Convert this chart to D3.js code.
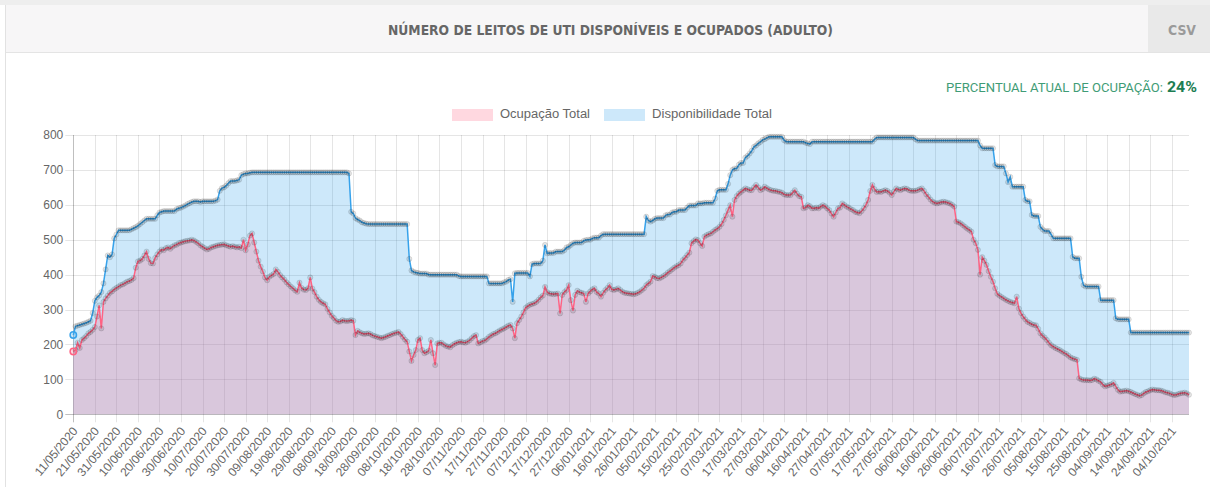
<!DOCTYPE html>
<html><head><meta charset="utf-8">
<script src="https://cdn.jsdelivr.net/npm/d3@7"></script>
<style>
html,body{margin:0;padding:0;background:#fff;overflow:hidden;}
svg{display:block;}
</style></head><body>
<svg id="c" width="1210" height="487"></svg>
<script>
// ---------------- DATA ----------------
const startDate = "2020-05-11";
const missingDays = ["2021-04-26"];
const seriesNames = ["Ocupação Total", "Disponibilidade Total"];
const yTicks = [0,100,200,300,400,500,600,700,800];
const tickLabels = ["11/05/2020","21/05/2020","31/05/2020","10/06/2020","20/06/2020","30/06/2020","10/07/2020","20/07/2020","30/07/2020","09/08/2020","19/08/2020","29/08/2020","08/09/2020","18/09/2020","28/09/2020","08/10/2020","18/10/2020","28/10/2020","07/11/2020","17/11/2020","27/11/2020","07/12/2020","17/12/2020","27/12/2020","06/01/2021","16/01/2021","26/01/2021","05/02/2021","15/02/2021","25/02/2021","07/03/2021","17/03/2021","27/03/2021","06/04/2021","16/04/2021","27/04/2021","07/05/2021","17/05/2021","27/05/2021","06/06/2021","16/06/2021","26/06/2021","06/07/2021","16/07/2021","26/07/2021","05/08/2021","15/08/2021","25/08/2021","04/09/2021","14/09/2021","24/09/2021","04/10/2021"];

const ocupacaoTotal = [180,184,205,190,213,218,224,232,236,242,
250,280,312,246,322,332,340,348,352,358,
362,366,370,372,376,380,382,385,390,420,
438,440,445,455,466,445,433,432,448,458,
466,472,470,476,478,474,480,484,486,490,
492,494,496,497,498,500,498,494,490,484,
480,476,472,474,478,480,482,484,485,486,
487,484,482,480,482,480,478,480,476,500,
470,486,512,518,492,466,440,423,409,392,
384,394,398,402,415,408,399,392,386,378,
372,366,361,355,351,377,362,357,356,361,
392,360,350,337,328,322,318,315,302,292,
282,276,268,265,266,270,268,267,268,270,
268,227,239,235,232,230,231,232,230,226,
224,222,220,218,220,222,225,227,230,232,
234,236,230,222,214,208,180,153,170,184,
213,218,184,175,178,182,213,175,141,203,
205,205,200,196,194,192,198,202,205,207,
208,206,205,208,212,218,224,227,203,206,
210,211,216,222,226,230,232,236,240,243,
246,250,254,256,246,218,261,270,280,292,
305,310,314,316,318,322,328,335,340,365,
350,346,345,344,345,346,289,342,350,356,
370,327,297,342,354,350,348,346,322,346,
352,358,361,350,346,337,348,356,362,370,
358,356,358,361,356,351,348,347,346,345,
344,345,348,351,356,361,370,375,380,396,
394,390,389,392,396,400,406,410,415,420,
424,427,432,442,448,456,463,490,496,501,
499,490,482,509,513,516,518,523,528,532,
537,545,557,570,585,599,566,614,625,632,
637,642,647,645,642,642,650,657,650,642,
645,652,648,644,642,640,640,638,637,635,
630,628,628,628,635,642,632,625,623,590,
592,599,596,590,590,592,590,595,599,596,
590,585,575,566,578,590,592,604,600,595,
592,588,585,580,578,576,582,590,600,614,
640,657,645,637,638,637,640,642,640,635,
628,638,647,644,642,645,647,646,642,640,
640,640,642,645,647,640,630,623,615,609,
606,604,606,608,609,608,606,604,600,595,
552,550,547,542,537,532,528,523,500,490,
471,400,450,440,428,410,394,380,361,345,
340,336,332,328,325,322,320,318,337,303,
290,280,272,265,262,258,256,255,245,232,
225,220,213,205,198,194,190,187,184,180,
176,173,168,163,160,158,156,103,100,98,
98,98,97,98,102,100,96,93,85,80,
82,84,86,90,80,70,65,66,67,68,
66,64,61,58,56,53,55,60,64,66,
69,71,70,69,69,68,66,63,62,60,
57,55,56,58,60,61,62,60,56];

const disponibilidadeTotal = [227,252,254,256,258,260,262,265,268,290,
325,335,340,350,375,415,455,450,458,504,
515,527,527,527,527,527,527,530,533,536,
540,545,550,555,560,560,560,560,560,570,
578,580,582,582,582,582,582,582,588,590,
592,595,598,602,605,608,610,610,610,608,
610,610,610,610,610,610,612,615,640,648,
650,655,662,668,668,668,670,672,685,688,
690,690,692,693,693,693,693,693,693,693,
693,693,693,693,693,693,693,693,693,693,
693,693,693,693,693,693,693,693,693,693,
693,693,693,693,693,693,693,693,693,693,
693,693,693,693,693,693,693,693,690,580,
575,562,558,555,550,548,546,545,545,545,
545,545,545,545,545,545,545,545,545,545,
545,545,545,545,545,545,445,412,408,406,
405,403,403,403,403,400,400,400,400,400,
400,400,400,400,400,400,400,400,400,396,
395,395,395,395,395,395,395,395,395,395,
395,395,395,375,375,375,375,375,375,375,
378,380,385,387,322,404,405,405,405,405,
405,405,395,430,432,432,432,432,440,485,
461,462,462,462,466,466,466,466,470,478,
480,485,490,492,492,492,492,497,499,500,
500,504,506,506,506,512,516,516,516,516,
516,516,516,516,516,516,516,516,516,516,
516,516,516,516,516,516,566,555,552,555,
560,562,562,562,562,570,572,572,578,580,
580,585,585,585,585,592,598,598,598,598,
604,604,604,606,606,606,606,606,618,640,
643,643,643,643,660,685,700,704,704,715,
720,720,735,740,747,755,766,770,776,780,
786,788,792,795,795,795,795,795,795,795,
785,781,781,781,781,781,781,781,781,781,
778,776,774,781,781,781,781,781,781,781,
781,781,781,781,781,781,781,781,781,781,
781,781,781,781,781,781,781,781,781,781,
781,781,788,793,793,793,793,793,793,793,
793,793,793,793,793,793,793,793,793,793,
793,788,784,784,784,784,784,784,784,784,
784,784,784,784,784,784,784,784,784,784,
784,784,784,784,784,784,784,784,784,784,
784,770,762,762,762,762,762,762,714,710,
710,710,710,690,665,680,652,652,652,652,
652,652,614,610,610,571,568,568,568,537,
530,525,525,525,515,504,504,504,504,504,
504,504,504,504,451,447,447,447,394,370,
366,366,366,366,366,366,366,327,327,327,
327,327,327,327,275,272,272,272,272,272,
272,234,234,234,234,234,234,234,234,234,
234,234,234,234,234,234,234,234,234,234,
234,234,234,234,234,234,234,234,234];

// ---------------- CATEGORIES ----------------
const iso = d3.timeFormat("%Y-%m-%d"), br = d3.timeFormat("%d/%m/%Y");
const skip = new Set(missingDays);
const dates = [];
let day = d3.timeParse("%Y-%m-%d")(startDate);
while (dates.length < ocupacaoTotal.length) {
  if (!skip.has(iso(day))) dates.push(br(day));
  day = d3.timeDay.offset(day, 1);
}

// ---------------- LAYOUT ----------------
const svg = d3.select("#c");
const L = 73.3, R = 1189, T = 135, B = 414.3;
const FONT = "'Liberation Sans', Arial, Helvetica, sans-serif";
const COND = "'Liberation Sans Narrow','DejaVu Sans Condensed','Roboto',sans-serif";

// page chrome
svg.append("rect").attr("x",0).attr("y",0).attr("width",1210).attr("height",487).attr("fill","#fff");
svg.append("rect").attr("x",0).attr("y",0).attr("width",1210).attr("height",5).attr("fill","#eeeeee");
svg.append("rect").attr("x",5).attr("y",5).attr("width",1205).attr("height",47).attr("fill","#f7f6f7");
svg.append("rect").attr("x",1148).attr("y",5).attr("width",62).attr("height",47).attr("fill","#e9e9e9");
svg.append("line").attr("x1",5).attr("x2",1210).attr("y1",52.5).attr("y2",52.5).attr("stroke","#e4e4e4");
svg.append("line").attr("x1",5.5).attr("x2",5.5).attr("y1",5).attr("y2",487).attr("stroke","#e2e2e2");

svg.append("text").attr("x",388).attr("y",35).attr("textLength",445).attr("lengthAdjust","spacingAndGlyphs")
  .attr("font-family",COND).attr("font-weight",700).attr("font-size",14).attr("fill","#666")
  .text("NÚMERO DE LEITOS DE UTI DISPONÍVEIS E OCUPADOS (ADULTO)");
svg.append("text").attr("x",1168).attr("y",35).attr("textLength",28).attr("lengthAdjust","spacingAndGlyphs")
  .attr("font-family",COND).attr("font-weight",700).attr("font-size",14).attr("fill","#9a9a9a").text("CSV");

const lastPct = Math.round(ocupacaoTotal[ocupacaoTotal.length-1] / disponibilidadeTotal[disponibilidadeTotal.length-1] * 100);
svg.append("text").attr("x",946).attr("y",91.5).attr("textLength",217).attr("lengthAdjust","spacingAndGlyphs")
  .attr("font-family","Roboto, sans-serif").attr("font-size",12.5).attr("fill","#3f9c76")
  .text("PERCENTUAL ATUAL DE OCUPAÇÃO:");
svg.append("text").attr("x",1167).attr("y",92).attr("textLength",30).attr("lengthAdjust","spacingAndGlyphs")
  .attr("font-family","Roboto, sans-serif").attr("font-weight",700).attr("font-size",15.5).attr("fill","#1d7d52")
  .text(lastPct + "%");

// ---------------- SCALES ----------------
const x = d3.scalePoint().domain(dates).range([L, R]);
const y = d3.scaleLinear().domain([0, 800]).range([B, T]);
const tickDates = tickLabels.filter(t => dates.includes(t));

// grid
const grid = svg.append("g");
grid.selectAll("line.h").data(yTicks).join("line")
  .attr("x1", L-8).attr("x2", R).attr("y1", d => Math.round(y(d))+0.5).attr("y2", d => Math.round(y(d))+0.5)
  .attr("stroke", d => d === 0 ? "rgba(0,0,0,0.25)" : "rgba(0,0,0,0.1)");
grid.selectAll("line.v").data(tickDates).join("line")
  .attr("x1", d => Math.round(x(d))+0.5).attr("x2", d => Math.round(x(d))+0.5)
  .attr("y1", T).attr("y2", B+8)
  .attr("stroke", (d,i) => i === 0 ? "rgba(0,0,0,0.25)" : "rgba(0,0,0,0.1)");

// y axis labels
const yAxis = svg.append("g").attr("transform",`translate(${L},0)`)
  .call(d3.axisLeft(y).tickValues(yTicks).tickSize(0).tickPadding(10).tickFormat(d3.format("d")));
yAxis.select(".domain").remove();
yAxis.selectAll("text").attr("font-family",FONT).attr("font-size",12).attr("fill","#666");

// x axis labels
const xAxis = svg.append("g").attr("transform",`translate(0,${B})`)
  .call(d3.axisBottom(x).tickValues(tickDates).tickSize(0).tickPadding(0));
xAxis.select(".domain").remove();
xAxis.selectAll(".tick text")
  .attr("font-family",FONT).attr("font-size",12).attr("fill","#666")
  .attr("text-anchor","end").attr("dy",null).attr("y",null)
  .attr("dominant-baseline","middle")
  .attr("transform","translate(2,15) rotate(-50)");

// ---------------- SERIES ----------------
const idx = d3.range(dates.length);
const series = [
  {name: seriesNames[1], vals: disponibilidadeTotal, line: "rgb(54,162,235)", fill: "rgba(54,162,235,0.25)"},
  {name: seriesNames[0], vals: ocupacaoTotal, line: "rgb(255,99,132)", fill: "rgba(255,99,132,0.25)"}
];
series.forEach(s => {
  const g = svg.append("g");
  g.append("path").datum(idx)
    .attr("d", d3.area().x(i => x(dates[i])).y0(y(0)).y1(i => y(s.vals[i])))
    .attr("fill", s.fill);
  g.append("path").datum(idx)
    .attr("d", d3.line().x(i => x(dates[i])).y(i => y(s.vals[i])))
    .attr("fill","none").attr("stroke", s.line).attr("stroke-width",1.5);
  g.selectAll("circle").data(idx.slice(1)).join("circle")
    .attr("cx", i => x(dates[i])).attr("cy", i => y(s.vals[i])).attr("r", 2.6)
    .attr("fill","rgba(0,0,0,0.1)").attr("stroke","rgba(0,0,0,0.1)").attr("stroke-width",1);
  g.append("circle").attr("cx", x(dates[0])).attr("cy", y(s.vals[0])).attr("r",3.2)
    .attr("fill", s.fill).attr("stroke", s.line).attr("stroke-width",1.5);
});

// ---------------- LEGEND ----------------
const leg = svg.append("g").attr("transform","translate(452,115)");
const items = [
  {name: seriesNames[0], fill: "rgba(255,99,132,0.25)", w: 90},
  {name: seriesNames[1], fill: "rgba(54,162,235,0.25)", w: 120}
];
let lx = 0;
items.forEach(it => {
  const g = leg.append("g").attr("transform",`translate(${lx},0)`);
  g.append("rect").attr("x",0).attr("y",-6).attr("width",41).attr("height",12).attr("fill",it.fill);
  g.append("text").attr("x",48).attr("y",0).attr("dominant-baseline","middle")
    .attr("textLength", it.w).attr("lengthAdjust","spacingAndGlyphs")
    .attr("font-family",FONT).attr("font-size",12).attr("fill","#666").text(it.name);
  lx += 48 + it.w + 14;
});
</script>
</body></html>
